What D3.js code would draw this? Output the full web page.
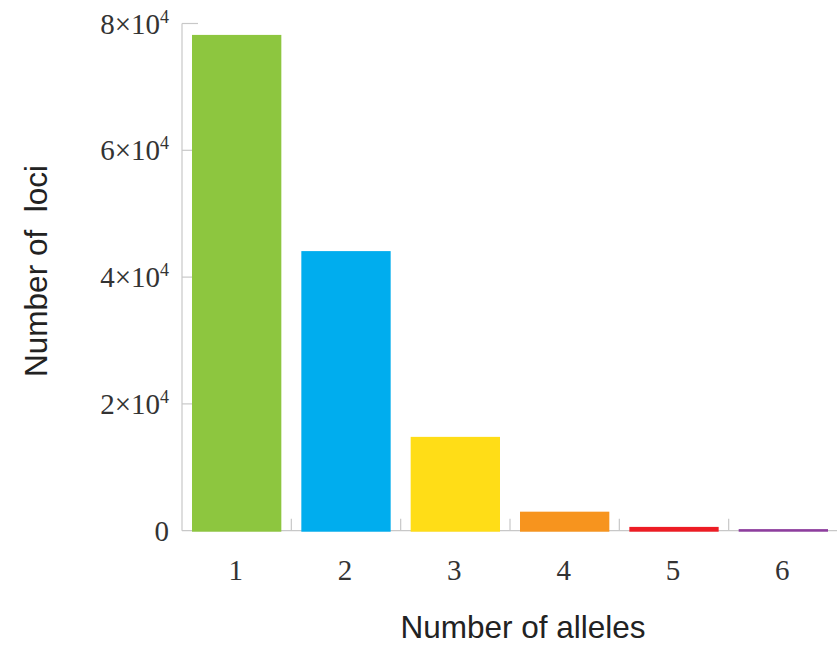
<!DOCTYPE html>
<html lang="en">
<head>
<meta charset="UTF-8">
<title>Number of alleles</title>
<script src="https://cdn.jsdelivr.net/npm/d3@7"></script>
<style>
    body { margin: 0; background: #fff; }
    .tick-label {
        font-family: "Liberation Serif", "Times New Roman", serif;
        font-size: 29px;
        fill: #333;
    }
    .title {
        font-family: "Liberation Sans", Arial, sans-serif;
        font-size: 31.5px;
        fill: #222;
    }
    .axis-line {
        stroke: #c8c8c8;
        stroke-width: 1.2;
        fill: none;
    }
</style>
</head>
<body>
<div id="chart"></div>
<script>
    const width = 837;
    const height = 650;

    // data
    const alleles = ["1", "2", "3", "4", "5", "6"];
    const loci = [78200, 44100, 14800, 3000, 600, 250];
    const colors = ["#8dc63f", "#00adee", "#ffdd17", "#f7941e", "#ed1c24", "#8e3d9e"];
    const yTicks = [0, 20000, 40000, 60000, 80000];

    const margin = {left: 182, right: -1, top: 23.5, bottom: 119.3};

    const x = d3.scaleBand()
        .domain(alleles)
        .range([margin.left, width - margin.right]);

    const y = d3.scaleLinear()
        .domain([0, 80000])
        .range([height - margin.bottom, margin.top]);

    const svg = d3.select("#chart").append("svg")
        .attr("width", width)
        .attr("height", height);

    // axes lines
    const axes = svg.append("g");
    axes.append("line").attr("class", "axis-line")
        .attr("x1", margin.left).attr("x2", margin.left)
        .attr("y1", y(80000)).attr("y2", y(0));
    axes.append("line").attr("class", "axis-line")
        .attr("x1", margin.left).attr("x2", width)
        .attr("y1", y(0)).attr("y2", y(0));

    // inward y ticks
    axes.selectAll("line.yt")
        .data(yTicks.filter(t => t > 0))
        .enter()
        .append("line")
        .attr("class", "axis-line yt")
        .attr("x1", margin.left).attr("x2", margin.left + 16)
        .attr("y1", d => y(d)).attr("y2", d => y(d));

    // inward x ticks between the bars
    axes.selectAll("line.xt")
        .data(alleles.slice(1))
        .enter()
        .append("line")
        .attr("class", "axis-line xt")
        .attr("x1", d => x(d)).attr("x2", d => x(d))
        .attr("y1", y(0)).attr("y2", y(0) - 12);

    // bars on top of the axis line
    const pad = 0.0915;
    svg.append("g").selectAll("rect")
        .data(alleles)
        .enter()
        .append("rect")
        .attr("x", d => x(d) + x.bandwidth() * pad)
        .attr("width", x.bandwidth() * (1 - 2 * pad))
        .attr("y", (d, i) => y(loci[i]))
        .attr("height", (d, i) => y(0) - y(loci[i]) + 1)
        .attr("fill", (d, i) => colors[i]);

    // y tick labels like 6×10^4
    const yl = svg.append("g").selectAll("text")
        .data(yTicks)
        .enter()
        .append("text")
        .attr("class", "tick-label")
        .attr("x", margin.left - 13)
        .attr("y", d => y(d) + 10)
        .attr("text-anchor", "end");
    yl.each(function(d) {
        const t = d3.select(this);
        if (d === 0) {
            t.text("0");
        } else {
            t.append("tspan").text((d / 10000) + "\u00d710");
            t.append("tspan").attr("dy", -11).attr("font-size", "18px").text("4");
        }
    });

    // x tick labels
    svg.append("g").selectAll("text")
        .data(alleles)
        .enter()
        .append("text")
        .attr("class", "tick-label")
        .attr("x", d => x(d) + x.bandwidth() / 2 - 1)
        .attr("y", 580)
        .attr("text-anchor", "middle")
        .text(d => d);

    // titles
    svg.append("text")
        .attr("class", "title")
        .attr("x", 523)
        .attr("y", 638)
        .attr("text-anchor", "middle")
        .text("Number of alleles");

    svg.append("text")
        .attr("class", "title")
        .attr("transform", "translate(47,271) rotate(-90)")
        .attr("text-anchor", "middle")
        .attr("xml:space", "preserve")
        .text("Number of  loci");
</script>
</body>
</html>
